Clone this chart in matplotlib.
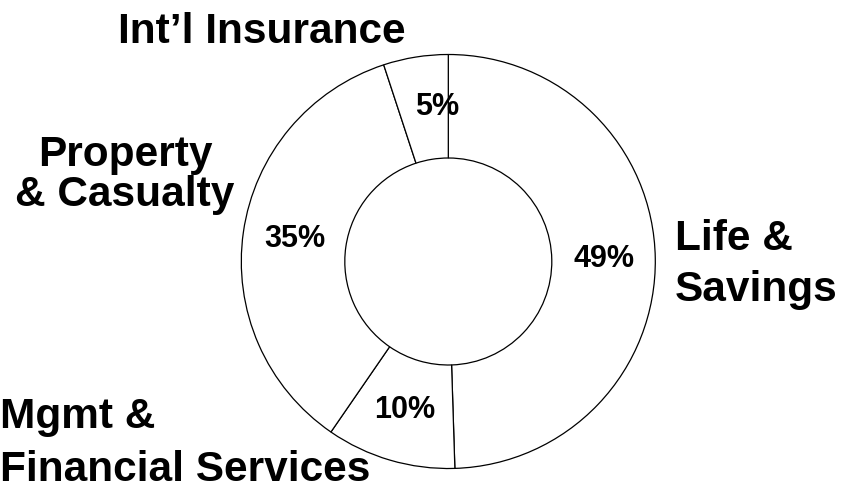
import matplotlib
matplotlib.use("Agg")
import matplotlib.pyplot as plt

# Data
segments = ["Life &\nSavings", "Mgmt &\nFinancial Services", "Property\n& Casualty", "Int\u2019l Insurance"]
values = [49, 10, 35, 5]

plt.rcParams['font.family'] = ['Liberation Sans', 'DejaVu Sans']

W, H = 854, 493
fig = plt.figure(figsize=(W / 100, H / 100), dpi=100)
ax = fig.add_axes([0, 0, 1, 1])
ax.set_xlim(0, W)
ax.set_ylim(0, H)
ax.set_aspect('equal')
ax.axis('off')

cx, cy, R = 448.3, H - 261.5, 207
wedges, texts, autotexts = ax.pie(
    values, center=(cx, cy), radius=R, startangle=90, counterclock=False,
    autopct='%.0f%%', pctdistance=0.75, frame=True,
    wedgeprops=dict(width=R * 0.5, facecolor='white', edgecolor='black', linewidth=0.9),
    textprops=dict(fontsize=22, fontweight='bold', color='black'))
ax.set_xlim(0, W)
ax.set_ylim(0, H)
ax.axis('off')

# nudge the small 5% label toward the upper boundary as in the reference
autotexts[3].set_position((436.7, H - 106.7))

kw = dict(fontsize=30.5, fontweight='bold', color='black', va='baseline')


def put_label(label, x, baselines, ha):
    for line, yb in zip(label.split("\n"), baselines):
        ax.text(x, H - yb, line, ha=ha, **kw)


put_label(segments[3], 262, [43], 'center')
put_label(segments[2], 125, [166, 206], 'center')
put_label(segments[0], 675, [250, 301], 'left')
put_label(segments[1], 0, [428, 481], 'left')

fig.savefig("out.png", dpi=100)
